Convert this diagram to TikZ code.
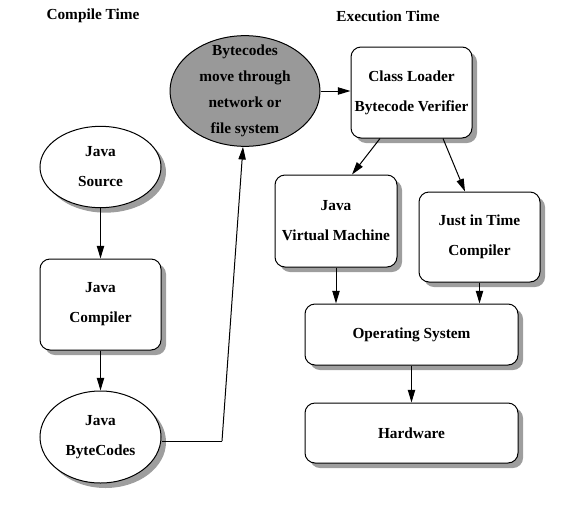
\documentclass[tikz,border=0pt]{standalone}
\usepackage{fontspec}
\setmainfont{Liberation Serif}[BoldFont={Liberation Serif Bold}]
\usetikzlibrary{shapes.geometric,arrows.meta,shadows,calc}
\begin{document}
\begin{tikzpicture}[x=0.75pt,y=-0.75pt,
  every node/.style={font=\bfseries\fontsize{11.5pt}{22.5pt}\selectfont, align=center, inner sep=0pt},
  shad/.style={drop shadow={shadow xshift=3.75pt, shadow yshift=-3.75pt, fill=black!38, opacity=1}},
  ell/.style={draw, ellipse, fill=white, line width=0.75pt, minimum width=90.75pt, minimum height=61pt, shad},
  box/.style={draw, rectangle, rounded corners=7.5pt, fill=white, line width=0.75pt, shad},
  conn/.style={line width=0.75pt, -{Triangle[length=9.5pt,width=5.5pt]}},
  title/.style={font=\bfseries\fontsize{11.5pt}{13pt}\selectfont}
]
\useasboundingbox (0,0) rectangle (564,504);

\node[title] (ct) at (93,16) {Compile Time};
\node[title] (et) at (388,16) {Execution Time};

\node[ell] (src) at (100.5,167) {Java\\Source};
\node[box, minimum width=90.75pt, minimum height=68.25pt] (jc) at (100.5,304.5) {Java\\Compiler};
\node[ell, minimum height=69pt] (bc) at (100.5,437) {Java\\ByteCodes};

\node[draw, ellipse, line width=0.75pt, fill=black!40, minimum width=112.5pt, minimum height=83pt] (net) at (245,91) {};
\node[font=\bfseries\fontsize{11.5pt}{19.5pt}\selectfont] (nettxt) at (245,91) {Bytecodes\\move through\\network or\\file system};

\node[box, minimum width=90.75pt, minimum height=68.25pt] (cl) at (411.5,92.5) {Class Loader\\Bytecode Verifier};
\node[box, minimum width=91.5pt, minimum height=69pt] (jvm) at (336,221) {Java\\Virtual Machine};
\node[box, minimum width=90.75pt, minimum height=67.5pt] (jit) at (479.5,237) {Just in Time\\Compiler};
\node[box, minimum width=159.75pt, minimum height=45.75pt] (os) at (411.5,334.5) {Operating System};
\node[box, minimum width=159.75pt, minimum height=45pt] (hw) at (411.5,433) {Hardware};

\coordinate (bend) at (222,441);

\draw[conn] (src) -- (jc);
\draw[conn] (jc) -- (bc);
\draw[line width=0.75pt] (bc.east |- bend) -- (bend);
\draw[conn] (bend) -- ($(net.south)+(-2,0)$);
\draw[conn] (net.east) -- (net.east -| cl.west);
\draw[conn] ($(cl.south)+(-31.5,0)$) -- ($(jvm.north)+(16,0)$);
\draw[conn] ($(cl.south)+(31.5,0)$) -- ($(jit.north)+(-14.5,0)$);
\draw[conn] (jvm.south) -- (jvm.south |- os.north);
\draw[conn] (jit.south) -- (jit.south |- os.north);
\draw[conn] (os) -- (hw);
\end{tikzpicture}
\end{document}
